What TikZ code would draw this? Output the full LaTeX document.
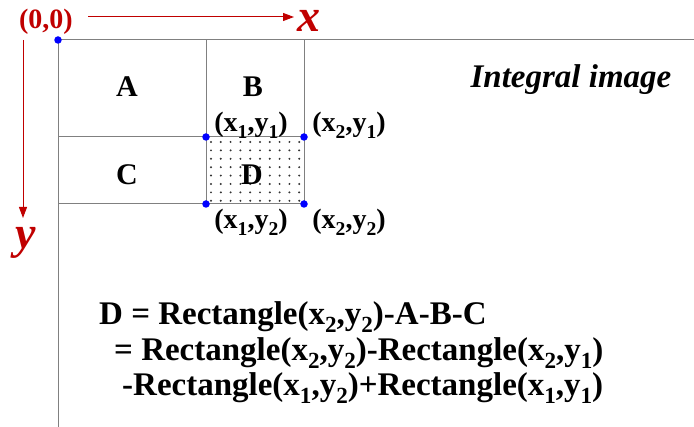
\documentclass[tikz,border=0pt]{standalone}
\usepackage{fontspec}
\usepackage{graphicx}
\setmainfont{Liberation Serif}
\usetikzlibrary{arrows.meta}
\definecolor{axred}{HTML}{C00000}
\definecolor{gridgray}{HTML}{808080}
\newcommand\lo[1]{\raisebox{-0.22em}{\scalebox{0.7}{#1}}}
\tikzset{
  gridline/.style={draw=gridgray, line width=1pt},
  corner/.style={circle, fill=blue, inner sep=0pt, minimum size=7.5pt},
  axis/.style={draw=axred, line width=1pt, -{Triangle[length=11pt,width=8pt]}},
  region/.style={font=\fontsize{30}{34}\selectfont\bfseries, anchor=base},
  coordlbl/.style={font=\fontsize{28}{32}\selectfont\bfseries, anchor=base},
  formula/.style={font=\fontsize{33}{38}\selectfont\bfseries, anchor=base west, inner sep=0pt},
  axlabel/.style={text=axred, font=\fontsize{46}{50}\selectfont\bfseries\itshape, anchor=base, inner sep=0pt},
}
\begin{document}
\begin{tikzpicture}[x=1pt,y=-1pt]
\useasboundingbox (0,0) rectangle (694,427);
% grid coordinates
\coordinate (tl) at (58,40);
\coordinate (tr) at (694,40);
\coordinate (bl) at (58,427);
\coordinate (m1t) at (206,40);
\coordinate (m2t) at (304,40);
\coordinate (l1) at (58,137);
\coordinate (l2) at (58,204);
\coordinate (p11) at (206,137);
\coordinate (p21) at (304,137);
\coordinate (p12) at (206,204);
\coordinate (p22) at (304,204);
% dotted fill of D
\foreach \i in {0,...,9} {
  \foreach \j in {0,...,7} {
    \fill[black!80] ({211+\i*9.8},{142+\j*8.4}) circle (1.1);
  }
}
% grid lines
\draw[gridline] (tr) -- (tl) -- (bl);
\draw[gridline] (m1t) -- (p12);
\draw[gridline] (m2t) -- (p22);
\draw[gridline] (l1) -- (p21);
\draw[gridline] (l2) -- (p22);
% corner dots
\node[corner] (o) at (tl) {};
\node[corner] (c11) at (p11) {};
\node[corner] (c21) at (p21) {};
\node[corner] (c12) at (p12) {};
\node[corner] (c22) at (p22) {};
% axes
\node[text=axred, font=\fontsize{28}{32}\selectfont\bfseries, anchor=base] (orig) at (46,29) {(0,0)};
\coordinate (xs) at (88,17);
\coordinate (xe) at (294,17);
\coordinate (ys) at (23,40);
\coordinate (ye) at (23,218);
\draw[axis] (xs) -- (xe);
\draw[axis] (ys) -- (ye);
\node[axlabel] (xl) at (309,32) {x};
\node[axlabel] (yl) at (26,249) {y};
% region labels
\node[region] (A) at (127,97) {A};
\node[region] (B) at (253,97) {B};
\node[region] (C) at (127,185) {C};
\node[region] (D) at (252,185) {D};
% coordinate labels
\node[coordlbl] (t11) at (251,132) {(x\lo{1},y\lo{1})};
\node[coordlbl] (t21) at (349,132) {(x\lo{2},y\lo{1})};
\node[coordlbl] (t12) at (251,229) {(x\lo{1},y\lo{2})};
\node[coordlbl] (t22) at (349,229) {(x\lo{2},y\lo{2})};
% title
\node[font=\fontsize{33}{38}\selectfont\bfseries\itshape, anchor=base] (title) at (571,88) {Integral image};
% formula
\node[formula] (f1) at (99,325) {D = Rectangle(x\lo{2},y\lo{2})-A-B-C};
\node[formula] (f2) at (114,361) {= Rectangle(x\lo{2},y\lo{2})-Rectangle(x\lo{2},y\lo{1})};
\node[formula] (f3) at (122,396) {-Rectangle(x\lo{1},y\lo{2})+Rectangle(x\lo{1},y\lo{1})};
\end{tikzpicture}
\end{document}
